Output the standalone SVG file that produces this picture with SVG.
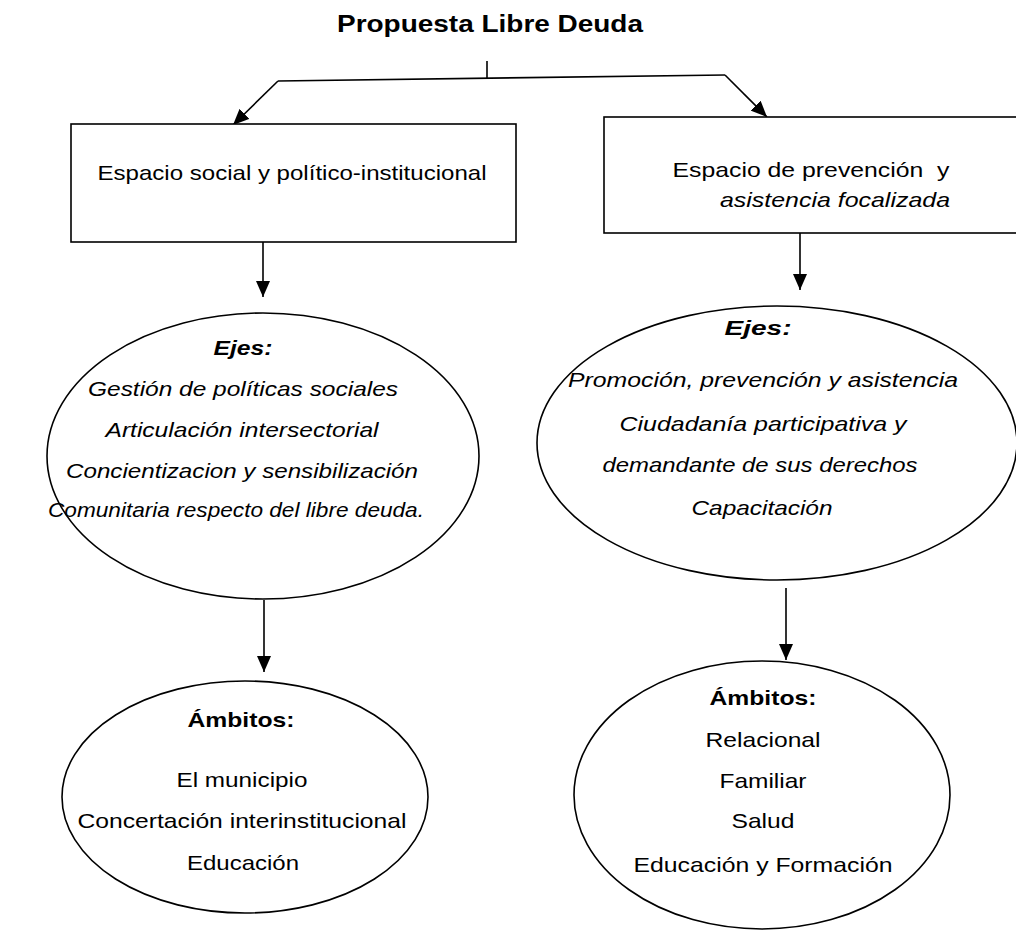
<svg xmlns="http://www.w3.org/2000/svg" width="1016" height="932" viewBox="0 0 1016 932">
<defs>
<marker id="ah" viewBox="0 0 16 14" refX="16" refY="7" markerWidth="16" markerHeight="14" orient="auto" markerUnits="userSpaceOnUse">
<path d="M0,0 L16,7 L0,14 z" fill="#000"/>
</marker>
<style>
.shape{fill:#fff;stroke:#000;stroke-width:1.6}
.conn{fill:none;stroke:#000;stroke-width:1.6}
text{font-family:"Liberation Sans",Arial,sans-serif;fill:#000;text-anchor:middle}
.t{font-size:21px}
.i{font-size:21px;font-style:italic}
.bi{font-size:21px;font-style:italic;font-weight:bold}
.b{font-size:21px;font-weight:bold}
.title{font-size:23px;font-weight:bold}
</style>
</defs>
<rect width="1016" height="932" fill="#fff"/>
<g id="title"><text class="title" x="490" y="32" textLength="306" lengthAdjust="spacingAndGlyphs">Propuesta Libre Deuda</text></g>
<g id="connectors">
<path class="conn" d="M487,61 L487,78"/>
<path class="conn" d="M278,81 L725,75"/>
<path class="conn" d="M278,81 L233,125" marker-end="url(#ah)"/>
<path class="conn" d="M725,75 L767,117" marker-end="url(#ah)"/>
<path class="conn" d="M263,242 L263,297" marker-end="url(#ah)"/>
<path class="conn" d="M800,233 L800,290" marker-end="url(#ah)"/>
<path class="conn" d="M264,600 L264,672" marker-end="url(#ah)"/>
<path class="conn" d="M786,588 L786,660" marker-end="url(#ah)"/>
</g>
<g id="box-social">
<rect class="shape" x="71" y="124" width="445" height="118"/>
<text class="t" x="292" y="180" textLength="389" lengthAdjust="spacingAndGlyphs">Espacio social y político-institucional</text>
</g>
<g id="box-prevencion">
<rect class="shape" x="604" y="117" width="420" height="116"/>
<text class="t" x="811" y="177" textLength="277" lengthAdjust="spacingAndGlyphs" xml:space="preserve">Espacio de prevención  y</text>
<text class="i" x="835" y="207" textLength="230" lengthAdjust="spacingAndGlyphs">asistencia focalizada</text>
</g>
<g id="ejes-social">
<ellipse class="shape" cx="263" cy="456" rx="216" ry="143"/>
<text class="bi" x="243" y="355" textLength="59" lengthAdjust="spacingAndGlyphs">Ejes:</text>
<text class="i" x="243" y="396" textLength="310" lengthAdjust="spacingAndGlyphs">Gestión de políticas sociales</text>
<text class="i" x="242" y="437" textLength="273" lengthAdjust="spacingAndGlyphs">Articulación intersectorial</text>
<text class="i" x="242" y="478" textLength="352" lengthAdjust="spacingAndGlyphs">Concientizacion y sensibilización</text>
<text class="i" x="236" y="517" textLength="376" lengthAdjust="spacingAndGlyphs">Comunitaria respecto del libre deuda.</text>
</g>
<g id="ejes-prevencion">
<ellipse class="shape" cx="777" cy="443" rx="240" ry="137"/>
<text class="bi" x="758" y="335" textLength="67" lengthAdjust="spacingAndGlyphs">Ejes:</text>
<text class="i" x="763" y="387" textLength="390" lengthAdjust="spacingAndGlyphs">Promoción, prevención y asistencia</text>
<text class="i" x="763" y="431" textLength="287" lengthAdjust="spacingAndGlyphs">Ciudadanía participativa y</text>
<text class="i" x="760" y="472" textLength="315" lengthAdjust="spacingAndGlyphs">demandante de sus derechos</text>
<text class="i" x="762" y="515" textLength="141" lengthAdjust="spacingAndGlyphs">Capacitación</text>
</g>
<g id="ambitos-social">
<ellipse class="shape" cx="245" cy="797" rx="183" ry="116"/>
<text class="b" x="241" y="727" textLength="107" lengthAdjust="spacingAndGlyphs">Ámbitos:</text>
<text class="t" x="242" y="787" textLength="131" lengthAdjust="spacingAndGlyphs">El municipio</text>
<text class="t" x="242" y="828" textLength="329" lengthAdjust="spacingAndGlyphs">Concertación interinstitucional</text>
<text class="t" x="243" y="870" textLength="112" lengthAdjust="spacingAndGlyphs">Educación</text>
</g>
<g id="ambitos-prevencion">
<ellipse class="shape" cx="762" cy="795" rx="188" ry="134"/>
<text class="b" x="763" y="705" textLength="107" lengthAdjust="spacingAndGlyphs">Ámbitos:</text>
<text class="t" x="763" y="747" textLength="115" lengthAdjust="spacingAndGlyphs">Relacional</text>
<text class="t" x="763" y="788" textLength="87" lengthAdjust="spacingAndGlyphs">Familiar</text>
<text class="t" x="763" y="828" textLength="63" lengthAdjust="spacingAndGlyphs">Salud</text>
<text class="t" x="763" y="872" textLength="259" lengthAdjust="spacingAndGlyphs">Educación y Formación</text>
</g>
</svg>
